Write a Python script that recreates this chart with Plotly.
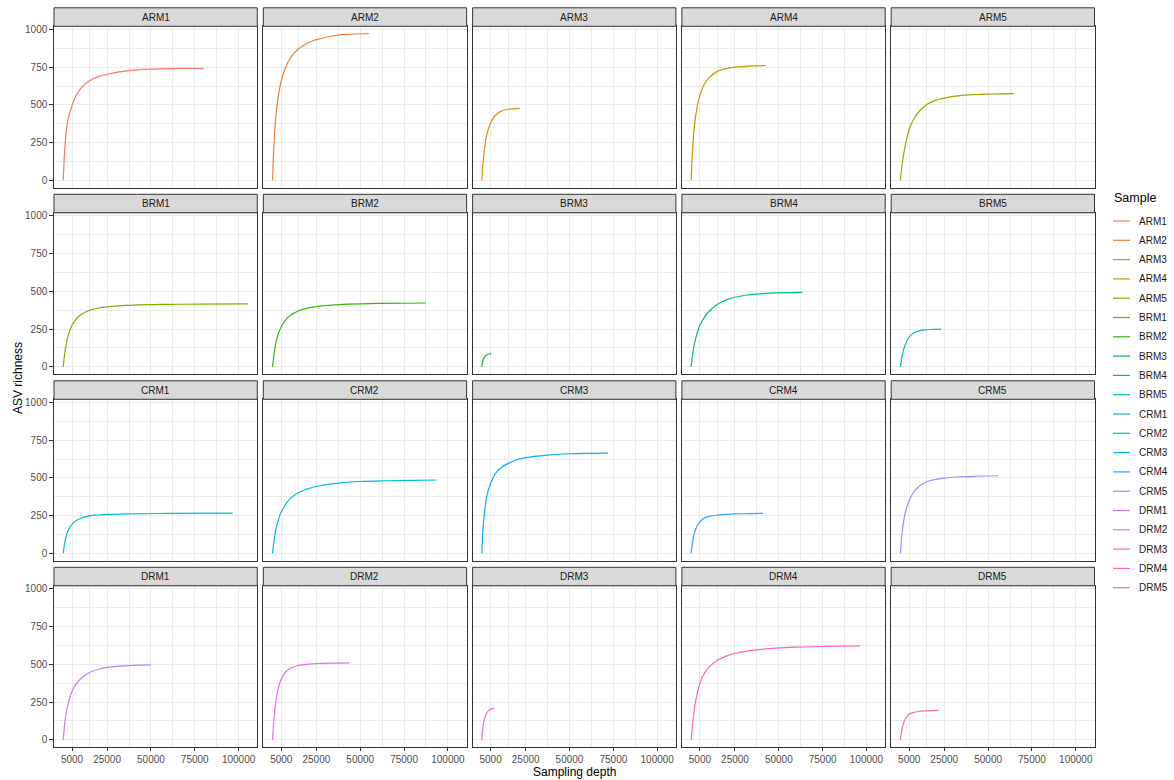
import plotly.graph_objects as go

samples = ["ARM1", "ARM2", "ARM3", "ARM4", "ARM5",
           "BRM1", "BRM2", "BRM3", "BRM4", "BRM5",
           "CRM1", "CRM2", "CRM3", "CRM4", "CRM5",
           "DRM1", "DRM2", "DRM3", "DRM4", "DRM5"]

colors = ["#F8766D", "#EA8331", "#D89000", "#C09B00", "#A3A500",
          "#7CAE00", "#39B600", "#00BB4E", "#00BF7D", "#00C1A3",
          "#00BFC4", "#00BAE0", "#00B0F6", "#35A2FF", "#9590FF",
          "#C77CFF", "#E76BF3", "#FA62DB", "#FF62BC", "#FF6C91"]

# sampling depth / ASV richness
depth_ARM1 = [0, 1000, 2500, 5000, 7500, 10000, 15000, 20000, 25000, 37500, 50000, 65000, 80000]
rich_ARM1 = [0, 230, 390, 495, 565, 610, 660, 687, 703, 727, 737, 741, 742]
depth_ARM2 = [0, 1000, 2500, 5000, 7500, 10000, 15000, 20000, 25000, 35000, 45000, 55000]
rich_ARM2 = [0, 270, 490, 660, 750, 808, 873, 910, 932, 958, 968, 973]
depth_ARM3 = [0, 1000, 2500, 4000, 5500, 7500, 10000, 13000, 17000, 21600]
rich_ARM3 = [0, 160, 285, 350, 393, 428, 452, 466, 474, 477]
depth_ARM4 = [0, 1000, 2500, 5000, 7500, 10000, 15000, 20000, 25000, 33000, 42500]
rich_ARM4 = [0, 240, 420, 565, 637, 677, 722, 741, 750, 757, 760]
depth_ARM5 = [0, 1000, 2500, 5000, 7500, 10000, 15000, 20000, 30000, 40000, 52000, 64600]
rich_ARM5 = [0, 110, 215, 340, 405, 448, 502, 530, 556, 567, 572, 575]

depth_BRM1 = [0, 1000, 2500, 5000, 7500, 10000, 15000, 20000, 25000, 40000, 60000, 80000, 105400]
rich_BRM1 = [0, 100, 195, 275, 318, 345, 375, 390, 398, 409, 414, 416, 417]
depth_BRM2 = [0, 1000, 2500, 5000, 7500, 10000, 15000, 20000, 25000, 40000, 60000, 87400]
rich_BRM2 = [0, 95, 190, 268, 312, 340, 372, 389, 399, 414, 420, 423]
depth_BRM3 = [0, 500, 1000, 2000, 3000, 4000, 5400]
rich_BRM3 = [0, 38, 55, 72, 80, 85, 88]
depth_BRM4 = [0, 1000, 2500, 5000, 7500, 10000, 15000, 20000, 25000, 32000, 45000, 63400]
rich_BRM4 = [0, 95, 185, 275, 328, 365, 415, 444, 461, 476, 488, 493]
depth_BRM5 = [0, 1000, 2500, 5000, 7500, 10000, 14000, 18000, 23200]
rich_BRM5 = [0, 75, 140, 198, 224, 237, 245, 248, 250]

depth_CRM1 = [0, 1000, 2500, 5000, 7500, 10000, 15000, 20000, 25000, 40000, 60000, 80000, 96600]
rich_CRM1 = [0, 80, 145, 192, 218, 233, 248, 254, 258, 262, 265, 266, 266]
depth_CRM2 = [0, 1000, 2000, 3500, 5000, 7500, 10000, 15000, 20000, 25000, 37500, 50000, 65000, 80000, 93500]
rich_CRM2 = [0, 95, 165, 228, 275, 325, 363, 403, 427, 443, 465, 476, 481, 484, 486]
depth_CRM3 = [0, 700, 1800, 3000, 5000, 7500, 10000, 15000, 20000, 25000, 37500, 50000, 62000, 71900]
rich_CRM3 = [0, 169, 300, 388, 465, 524, 559, 596, 620, 634, 651, 660, 663, 664]
depth_CRM4 = [0, 900, 2500, 5000, 7700, 10000, 15000, 20000, 25000, 33000, 41000]
rich_CRM4 = [0, 81, 158, 208, 235, 245, 254, 258, 261, 263, 265]
depth_CRM5 = [0, 1000, 2500, 5000, 7500, 10000, 15000, 20000, 25000, 32000, 43000, 55700]
rich_CRM5 = [0, 140, 255, 350, 405, 438, 474, 490, 499, 506, 511, 514]

depth_DRM1 = [0, 1000, 2500, 5000, 7500, 10000, 15000, 20000, 25000, 32000, 40000, 49900]
rich_DRM1 = [0, 125, 225, 320, 372, 405, 446, 468, 480, 489, 494, 497]
depth_DRM2 = [0, 1000, 2500, 5000, 7500, 10000, 14000, 18000, 25000, 33000, 43700]
rich_DRM2 = [0, 160, 300, 405, 451, 473, 491, 499, 505, 508, 510]
depth_DRM3 = [0, 500, 1000, 2000, 3000, 4500, 6000, 7300]
rich_DRM3 = [0, 75, 115, 158, 182, 199, 207, 211]
depth_DRM4 = [0, 1000, 2500, 5000, 7500, 10000, 15000, 20000, 25000, 32000, 45000, 60000, 78000, 96200]
rich_DRM4 = [0, 125, 250, 375, 440, 480, 527, 555, 572, 588, 604, 614, 620, 623]
depth_DRM5 = [0, 1000, 2500, 5000, 7500, 10000, 14000, 18000, 21600]
rich_DRM5 = [0, 78, 133, 170, 182, 188, 192, 194, 195]

depths = [depth_ARM1, depth_ARM2, depth_ARM3, depth_ARM4, depth_ARM5,
          depth_BRM1, depth_BRM2, depth_BRM3, depth_BRM4, depth_BRM5,
          depth_CRM1, depth_CRM2, depth_CRM3, depth_CRM4, depth_CRM5,
          depth_DRM1, depth_DRM2, depth_DRM3, depth_DRM4, depth_DRM5]
richs = [rich_ARM1, rich_ARM2, rich_ARM3, rich_ARM4, rich_ARM5,
         rich_BRM1, rich_BRM2, rich_BRM3, rich_BRM4, rich_BRM5,
         rich_CRM1, rich_CRM2, rich_CRM3, rich_CRM4, rich_CRM5,
         rich_DRM1, rich_DRM2, rich_DRM3, rich_DRM4, rich_DRM5]

x_ticks = [5000, 25000, 50000, 75000, 100000]
x_minor = [15000, 37500, 62500, 87500]
y_ticks = [0, 250, 500, 750, 1000]
y_minor = [125, 375, 625, 875]

W, H = 1174, 780
NCOL, NROW = 5, 4
col_left = [54, 263.3, 472.6, 681.9, 891.2]
panel_w = 203.3
row_top0 = 26.3
panel_h = 161.4
row_step = 186.5
strip_h = 18.5

FONT = "Liberation Sans, Arial, Helvetica, sans-serif"
GRID = "#EBEBEB"
DARK = "#333333"

fig = go.Figure()
layout = dict(
    width=W, height=H, autosize=False,
    margin=dict(l=0, r=0, t=0, b=0, autoexpand=False),
    paper_bgcolor="white", plot_bgcolor="white",
    font=dict(family=FONT, size=10, color="#4D4D4D"),
    showlegend=False,
)
shapes = []
annotations = []

for k, name in enumerate(samples):
    r, c = divmod(k, NCOL)
    ax = "" if k == 0 else str(k + 1)
    x0 = col_left[c]
    top = row_top0 + r * row_step
    bottom = top + panel_h
    xdom = [x0 / W, (x0 + panel_w) / W]
    ydom = [1 - bottom / H, 1 - top / H]
    bottom_row = (r == NROW - 1)
    left_col = (c == 0)
    layout["xaxis" + ax] = dict(
        domain=xdom, anchor="y" + ax, range=[-5270, 110670],
        tickmode="array", tickvals=x_ticks, ticktext=[str(v) for v in x_ticks],
        showticklabels=bottom_row, ticks="outside" if bottom_row else "",
        ticklen=3.2, tickwidth=1, tickcolor=DARK,
        tickfont=dict(size=10, color="#4D4D4D", family=FONT),
        showgrid=True, gridcolor=GRID, gridwidth=1,
        minor=dict(tickmode="array", tickvals=x_minor, showgrid=True,
                   gridcolor=GRID, gridwidth=0.6, ticks=""),
        zeroline=False, showline=True, mirror=True, linecolor=DARK, linewidth=1,
        fixedrange=True, automargin=False,
    )
    layout["yaxis" + ax] = dict(
        domain=ydom, anchor="x" + ax, range=[-48.6, 1020.6],
        tickmode="array", tickvals=y_ticks, ticktext=[str(v) for v in y_ticks],
        showticklabels=left_col, ticks="outside" if left_col else "",
        ticklen=3.7, tickwidth=1, tickcolor=DARK,
        tickfont=dict(size=10, color="#4D4D4D", family=FONT),
        showgrid=True, gridcolor=GRID, gridwidth=1,
        minor=dict(tickmode="array", tickvals=y_minor, showgrid=True,
                   gridcolor=GRID, gridwidth=0.6, ticks=""),
        zeroline=False, showline=True, mirror=True, linecolor=DARK, linewidth=1,
        fixedrange=True, automargin=False,
    )
    # facet strip
    shapes.append(dict(type="rect", xref="paper", yref="paper",
                       x0=xdom[0], x1=xdom[1],
                       y0=1 - top / H, y1=1 - (top - strip_h) / H,
                       fillcolor="#D9D9D9", line=dict(color=DARK, width=1)))
    annotations.append(dict(xref="paper", yref="paper",
                            x=(xdom[0] + xdom[1]) / 2, y=1 - (top - strip_h / 2) / H,
                            text=name, showarrow=False, xanchor="center", yanchor="middle",
                            font=dict(size=10, color="#1A1A1A", family=FONT)))
    fig.add_trace(go.Scatter(
        x=depths[k], y=richs[k], mode="lines", name=name,
        line=dict(color=colors[k], width=1.2, shape="spline", smoothing=1.0),
        xaxis="x" + ax, yaxis="y" + ax, showlegend=False,
        hoverinfo="skip",
    ))

    # legend key (drawn like ggplot's legend)
    ly = 221 + k * 19.3
    shapes.append(dict(type="line", xref="paper", yref="paper",
                       x0=1113 / W, x1=1130 / W, y0=1 - ly / H, y1=1 - ly / H,
                       line=dict(color=colors[k], width=1.2)))
    annotations.append(dict(xref="paper", yref="paper", x=1137 / W, y=1 - ly / H,
                            text=name, showarrow=False, xanchor="left", yanchor="middle",
                            font=dict(size=10, color="#1A1A1A", family=FONT)))

annotations.append(dict(xref="paper", yref="paper", x=1112 / W, y=1 - 198 / H,
                        text="Sample", showarrow=False, xanchor="left", yanchor="middle",
                        font=dict(size=12.5, color="black", family=FONT)))
annotations.append(dict(xref="paper", yref="paper", x=574 / W, y=1 - 772 / H,
                        text="Sampling depth", showarrow=False,
                        xanchor="center", yanchor="middle",
                        font=dict(size=12, color="black", family=FONT)))
annotations.append(dict(xref="paper", yref="paper", x=18 / W, y=1 - 378 / H,
                        text="ASV richness", showarrow=False, textangle=-90,
                        xanchor="center", yanchor="middle",
                        font=dict(size=12, color="black", family=FONT)))

layout["shapes"] = shapes
layout["annotations"] = annotations
fig.update_layout(**layout)
fig.write_html(
    "out.html",
    config={"displayModeBar": False},
    post_script="document.body.style.margin='0';document.body.style.padding='0';"
                "document.body.style.overflow='hidden';",
)
